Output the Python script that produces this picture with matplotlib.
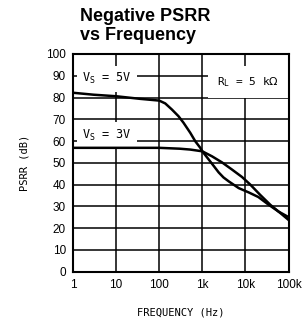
import numpy as np
import matplotlib
matplotlib.use("Agg")
import matplotlib.pyplot as plt

freq_5v = [1, 3, 10, 36, 100, 138, 197, 281, 367, 526, 688, 898, 1000, 1620, 2400,
           3100, 4100, 7000, 12000, 20000, 35000, 59000, 100000]
psrr_5v = [82.2, 81.3, 80.6, 79.4, 78.6, 77.3, 74.5, 71.4, 68.4, 63.8, 59.9, 56.9, 55.3,
           50.0, 45.6, 43.3, 41.5, 38.4, 36.4, 34.3, 30.7, 27.6, 25.1]
freq_3v = [1, 10, 100, 300, 526, 1000, 1680, 2870, 4900, 8350, 13000, 22000, 38000,
           65000, 100000]
psrr_3v = [56.9, 56.9, 56.9, 56.5, 56.1, 55.3, 53.0, 50.2, 46.9, 43.5, 40.0, 35.3, 30.7,
           26.9, 23.8]

xticks = [1, 10, 100, 1000, 10000, 100000]
xtick_labels = ["1", "10", "100", "1k", "10k", "100k"]
yticks = list(range(0, 101, 10))

W, H = 304, 326
fig = plt.figure(figsize=(W / 100, H / 100), dpi=100)
ax = fig.add_axes([73 / W, 1 - 271.7 / H, (288.5 - 73) / W, (271.7 - 54) / H])

ax.set_xscale("log")
ax.set_xlim(1, 100000)
ax.set_ylim(0, 100)
ax.set_xticks(xticks)
ax.set_xticklabels(xtick_labels)
ax.set_yticks(yticks)
ax.minorticks_off()
ax.tick_params(length=0, pad=5, labelsize=8.5)
for lbl in ax.get_xticklabels() + ax.get_yticklabels():
    lbl.set_fontfamily("Liberation Sans")
ax.grid(True, color="black", linewidth=1.1)
for sp in ax.spines.values():
    sp.set_linewidth(1.5)

ax.plot(freq_5v, psrr_5v, color="black", linewidth=1.8, zorder=3)
ax.plot(freq_3v, psrr_3v, color="black", linewidth=1.8, zorder=3)

# white boxes break the grid lines behind the labels, spines stay on top
box = dict(facecolor="white", edgecolor="none", pad=4)
ax.text(6.2, 88.6, r"V$_\mathregular{S}$ = 5V", ha="center", va="center",
        family="DejaVu Sans Mono", fontsize=8.5, bbox=box, zorder=2)
ax.text(6.2, 62.6, r"V$_\mathregular{S}$ = 3V", ha="center", va="center",
        family="DejaVu Sans Mono", fontsize=8.5, bbox=box, zorder=2)
ax.text(11500, 87.2, r"R$_\mathregular{L}$ = 5 k$\Omega$", ha="center", va="center",
        family="DejaVu Sans Mono", fontsize=8,
        bbox=dict(facecolor="white", edgecolor="none", pad=6.5), zorder=2)

ax.set_xlabel("FREQUENCY (Hz)", family="DejaVu Sans Mono", fontsize=7.5, labelpad=12)
ax.set_ylabel("PSRR (dB)", family="DejaVu Sans Mono", fontsize=7.5, labelpad=12)

fig.text(80 / W, 1 - 8 / H, "Negative PSRR\nvs Frequency", ha="left", va="top",
         family="Liberation Sans", weight="bold", fontsize=13, linespacing=1.15)

fig.savefig("out.png", dpi=100)
